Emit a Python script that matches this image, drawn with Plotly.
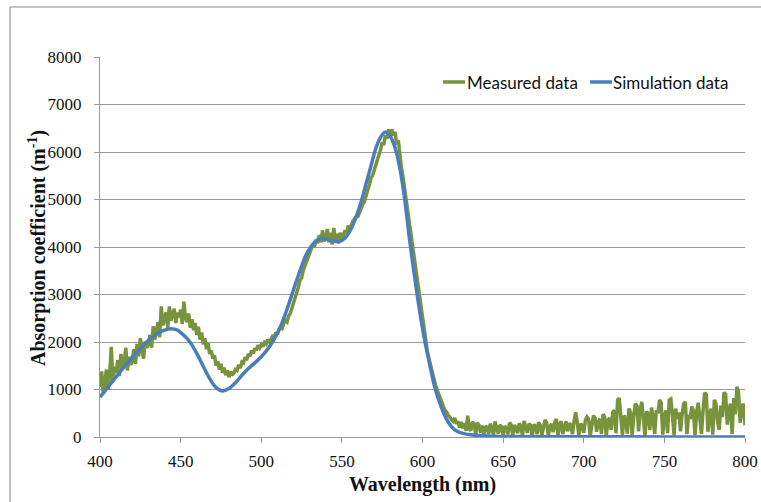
import plotly.graph_objects as go

# Measured absorption spectrum, 1 nm steps from 400 to 800 nm (m^-1)
meas_start = 400
measured = [
    # 400-409
    1050, 1380, 900, 1250, 1420, 1000, 1310, 1900, 1150, 1480,
    # 410-419
    1350, 1620, 1280, 1750, 1450, 1560, 1880, 1400, 1690, 1520,
    # 420-429
    1610, 1850, 1540, 1960, 1700, 2080, 1820, 1650, 2010, 1880,
    # 430-439
    1950, 2150, 1880, 2330, 2050, 2260, 2420, 2100, 2750, 2350,
    # 440-449
    2480, 2620, 2300, 2750, 2450, 2580, 2700, 2400, 2620, 2520,
    # 450-459
    2680, 2380, 2850, 2500, 2420, 2600, 2300, 2480, 2250, 2400,
    # 460-469
    2150, 2320, 2050, 2200, 1950, 2080, 1850, 1980, 1750, 1820,
    # 470-479
    1650, 1720, 1500, 1600, 1420, 1540, 1350, 1460, 1300, 1400,
    # 480-489
    1260, 1380, 1300, 1350, 1420, 1400, 1520, 1450, 1580, 1560,
    # 490-499
    1680, 1620, 1750, 1700, 1820, 1760, 1870, 1820, 1930, 1880,
    # 500-509
    1950, 1900, 1990, 1960, 2050, 2000, 2080, 2120, 2100, 2200,
    # 510-519
    2160, 2260, 2300, 2280, 2400, 2450, 2420, 2550, 2600, 2700,
    # 520-529
    2800, 2900, 3050, 3150, 3300, 3350, 3500, 3600, 3700, 3800,
    # 530-539
    3850, 3950, 4050, 4000, 4150, 4080, 4250, 4100, 4350, 4120,
    # 540-549
    4200, 4380, 4100, 4300, 4050, 4400, 4100, 4280, 4080, 4300,
    # 550-559
    4150, 4250, 4350, 4300, 4450, 4400, 4500, 4550, 4600, 4650,
    # 560-569
    4650, 4750, 4800, 4900, 4950, 5100, 5200, 5300, 5450, 5500,
    # 570-579
    5600, 5700, 5800, 5950, 6050, 6200, 6150, 6350, 6280, 6480,
    # 580-589
    6300, 6480, 6350, 6420, 6150, 6250, 5900, 5650, 5450, 5200,
    # 590-599
    4950, 4700, 4500, 4250, 4000, 3750, 3500, 3250, 2950, 2700,
    # 600-609
    2450, 2250, 2000, 1800, 1650, 1500, 1350, 1200, 1100, 1000,
    # 610-619
    900, 800, 720, 640, 560, 520, 450, 420, 360, 330,
    # 620-629
    400, 280, 330, 200, 320, 180, 290, 130, 450, 170,
    # 630-639
    140, 320, 280, 60, 300, 250, 90, 240, 40, 200,
    # 640-649
    230, 60, 280, 210, 30, 330, 190, 70, 250, 220,
    # 650-659
    40, 230, 180, 60, 300, 260, 20, 250, 190, 80,
    # 660-669
    290, 220, 30, 340, 200, 90, 280, 250, 20, 260,
    # 670-679
    230, 60, 310, 250, 40, 230, 360, 300, 30, 210,
    # 680-689
    280, 100, 300, 380, 20, 260, 330, 60, 240, 330,
    # 690-699
    120, 290, 250, 60, 330, 520, 300, 40, 280, 240,
    # 700-709
    90, 350, 420, 380, 20, 300, 450, 400, 110, 320,
    # 710-719
    380, 60, 480, 420, 30, 350, 400, 150, 520, 560,
    # 720-729
    80, 780, 820, 420, 40, 450, 380, 70, 600, 520,
    # 730-739
    40, 430, 700, 650, 120, 580, 740, 380, 20, 540,
    # 740-749
    480, 150, 620, 400, 60, 560, 500, 780, 720, 50,
    # 750-759
    430, 560, 80, 780, 800, 460, 30, 600, 380, 520,
    # 760-769
    120, 480, 700, 740, 60, 460, 380, 640, 560, 40,
    # 770-779
    520, 720, 380, 60, 560, 930, 900, 110, 440, 600,
    # 780-789
    50, 780, 700, 320, 150, 660, 420, 940, 900, 260,
    # 790-799
    560, 700, 60, 820, 480, 1060, 940, 300, 620, 700,
    # 800
    250,
]
meas_wl = [meas_start + i for i in range(len(measured))]

# Simulated absorption spectrum (smooth model curve)
sim_wl = [400, 404, 408, 412, 416, 420, 424, 428, 432, 436, 440, 444, 448,
          452, 456, 460, 464, 468, 472, 476, 480, 484, 488, 492, 496, 500,
          504, 508, 512, 516, 520, 524, 528, 532, 536, 540, 544, 548, 552,
          556, 559, 562, 565, 568, 571, 574, 577, 580, 583, 586, 589, 592,
          595, 598, 601, 604, 608, 612, 616, 620, 625, 630, 640, 650, 700,
          750, 800]
sim_val = [840, 1010, 1180, 1350, 1520, 1680, 1830, 1970, 2090, 2190, 2250,
           2280, 2250, 2140, 1990, 1760, 1490, 1230, 1040, 970, 1020, 1140,
           1300, 1440, 1560, 1690, 1850, 2060, 2330, 2690, 3100, 3500, 3850,
           4060, 4170, 4170, 4130, 4110, 4190, 4400, 4650, 4960, 5330, 5700,
           6070, 6310, 6420, 6330, 6090, 5650, 5000, 4150, 3400, 2700, 2100,
           1600, 1000, 600, 310, 150, 75, 45, 20, 10, 5, 2, 0]

GREEN = "#77933c"
BLUE = "#4a7ebb"
GRID = "#999999"
TEXT = "#111111"
SERIF = "Liberation Serif"

W, H = 761, 502
ML, MR, MT, MB = 100, 16, 57, 65


def px_x(px):
    return (px - ML) / (W - ML - MR)


def px_y(py):
    return (H - MB - py) / (H - MT - MB)


fig = go.Figure()
fig.add_trace(go.Scatter(x=meas_wl, y=measured, mode="lines", name="Measured data",
                         line=dict(color=GREEN, width=3.5), showlegend=False))
fig.add_trace(go.Scatter(x=sim_wl, y=sim_val, mode="lines", name="Simulation data",
                         line=dict(color=BLUE, width=3.5, shape="spline", smoothing=0.8),
                         showlegend=False))

shapes = [
    # chart frame
    dict(type="rect", xref="paper", yref="paper",
         x0=px_x(10), x1=px_x(800), y0=px_y(540), y1=px_y(7),
         line=dict(color="#8a8a8a", width=1), fillcolor="rgba(0,0,0,0)", layer="below"),
    # legend keys
    dict(type="line", xref="paper", yref="paper", x0=px_x(443), x1=px_x(465),
         y0=px_y(82), y1=px_y(82), line=dict(color=GREEN, width=3.5)),
    dict(type="line", xref="paper", yref="paper", x0=px_x(590), x1=px_x(612),
         y0=px_y(82), y1=px_y(82), line=dict(color=BLUE, width=3.5)),
]
annotations = [
    dict(text="Measured data", xref="paper", yref="paper", x=px_x(465), y=px_y(82),
         xanchor="left", yanchor="middle", showarrow=False,
         font=dict(family="Lato", size=17, color=TEXT)),
    dict(text="Simulation data", xref="paper", yref="paper", x=px_x(611), y=px_y(82),
         xanchor="left", yanchor="middle", showarrow=False,
         font=dict(family="Lato", size=17, color=TEXT)),
    # y-axis title
    dict(text="<b>Absorption coefficient (m<sup>-1</sup>)</b>", xref="paper", yref="paper",
         x=px_x(37), y=px_y(248), xanchor="center", yanchor="middle",
         textangle=-90, showarrow=False,
         font=dict(family=SERIF, size=20, color=TEXT)),
]

fig.update_layout(
    width=W, height=H,
    margin=dict(l=ML, r=MR, t=MT, b=MB),
    paper_bgcolor="white", plot_bgcolor="white",
    showlegend=False,
    shapes=shapes, annotations=annotations,
    xaxis=dict(range=[400, 800], dtick=50, tick0=400, showgrid=False, zeroline=False,
               automargin=False,
               showline=True, linecolor=GRID, linewidth=1,
               ticks="outside", ticklen=5, tickcolor=GRID,
               tickfont=dict(family=SERIF, size=17, color=TEXT),
               ticklabelstandoff=4,
               title=dict(text="<b>Wavelength (nm)</b>", standoff=6,
                          font=dict(family=SERIF, size=20, color=TEXT))),
    yaxis=dict(range=[0, 8000], dtick=1000, showgrid=True, gridcolor=GRID, gridwidth=1,
               zeroline=False, automargin=False,
               showline=True, linecolor=GRID, linewidth=1,
               ticks="outside", ticklen=5, tickcolor=GRID,
               tickfont=dict(family=SERIF, size=17, color=TEXT),
               ticklabelstandoff=9),
)

fig.write_html("out.html", config={"displayModeBar": False})
